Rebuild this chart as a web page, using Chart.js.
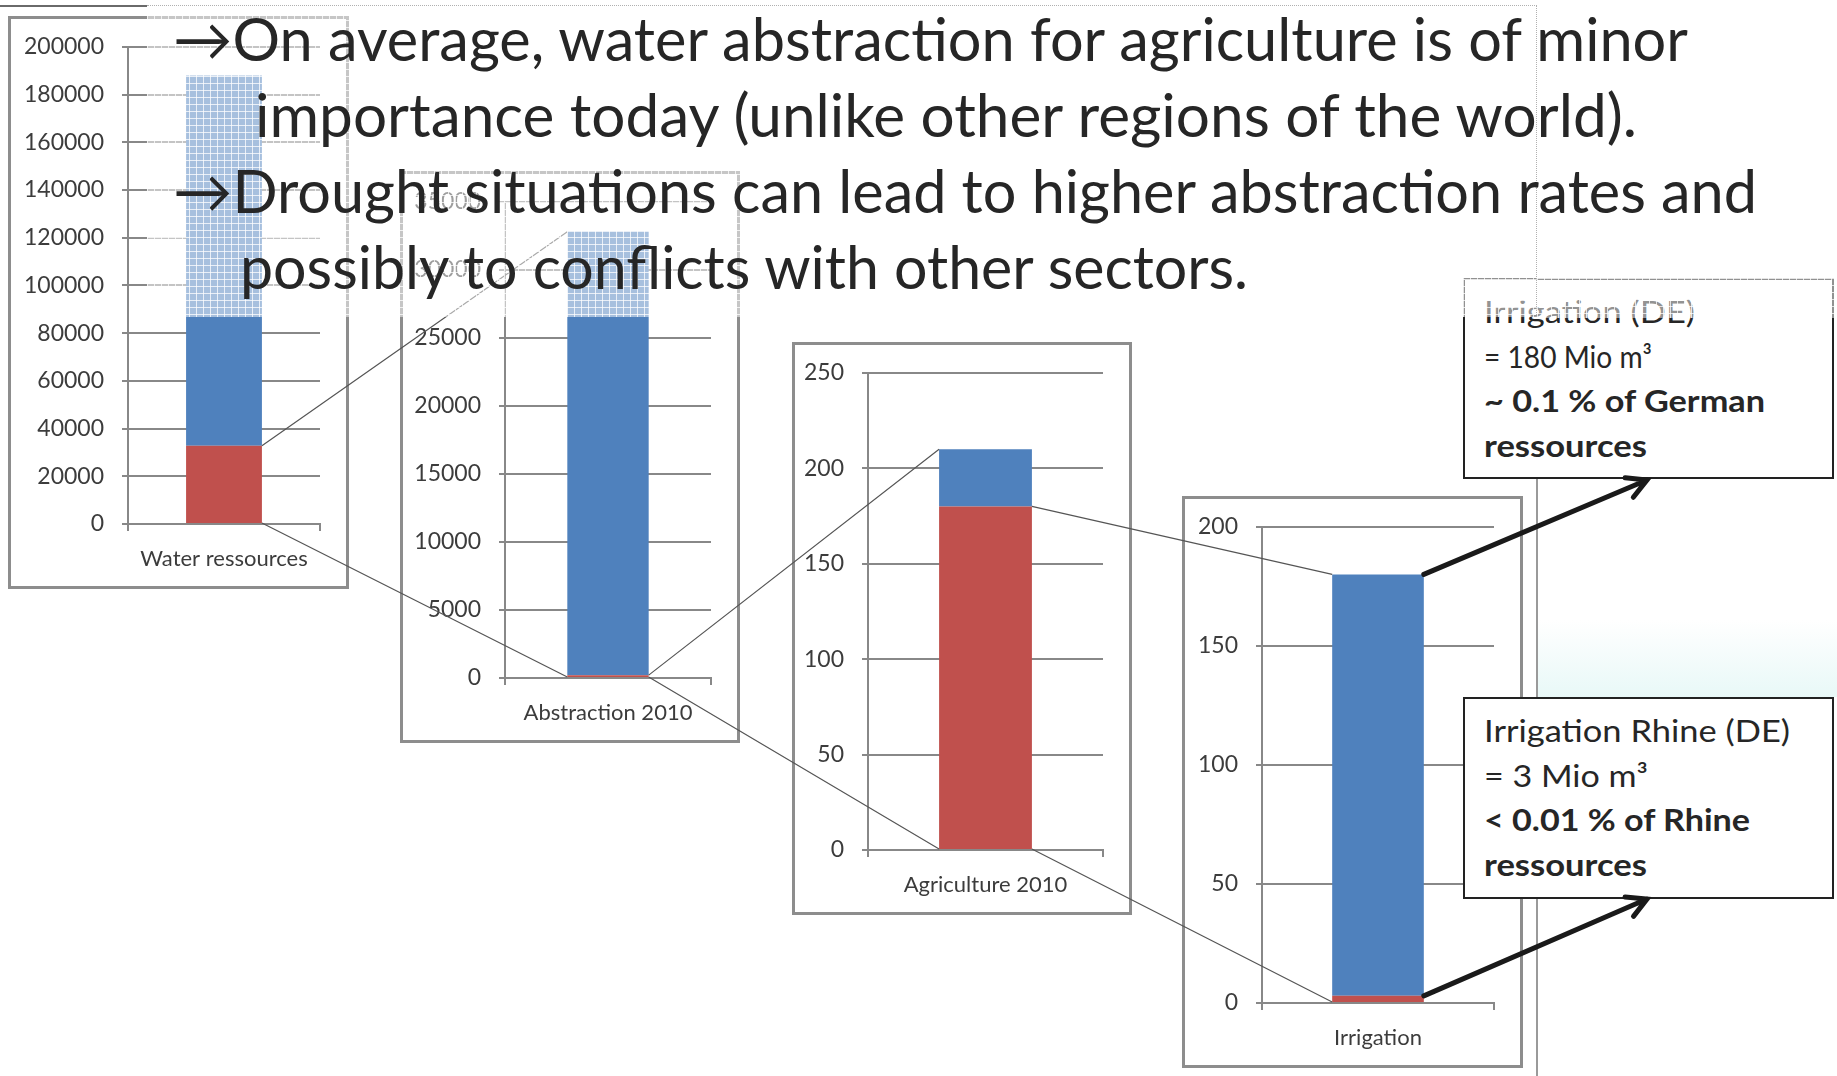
<!DOCTYPE html>
<html lang="en">
<head>
<meta charset="UTF-8">
<title>Water abstraction for agriculture</title>
<script src="https://cdn.jsdelivr.net/npm/chart.js"></script>
<style>
  html, body { margin: 0; padding: 0; background: #fff; }
  body { width: 1837px; height: 1076px; position: relative; overflow: hidden; font-family: Lato, sans-serif; }
  .frame { position: absolute; border: 3px solid #8d8d8d; background: #fff; z-index: 1; }
  .frame canvas { display: block; margin-top: -4px; }
  #links { position: absolute; left: 0; top: 0; z-index: 2; pointer-events: none; }
  #arrows { position: absolute; left: 0; top: 0; z-index: 6; pointer-events: none; }
  .veil {
    position: absolute; z-index: 3;
    background-color: rgba(255,255,255,0.5);
    background-image: linear-gradient(rgba(255,255,255,0.75) 1px, transparent 1px),
                      linear-gradient(90deg, rgba(255,255,255,0.75) 1px, transparent 1px);
    background-size: 7px 7px;
  }
  .bullet { position: absolute; z-index: 4; font-size: 60px; line-height: 60px; color: #262626; white-space: nowrap; transform-origin: 0 0; }
  .note { position: absolute; z-index: 2; background: #fff; border: 2px solid #222; box-sizing: border-box;
          padding: 9px 0 0 19px; font-size: 30px; line-height: 44.5px; color: #262626; }
  .note div { white-space: nowrap; width: max-content; transform-origin: 0 0; }
  .note b { font-weight: 700; }
</style>
</head>
<body>

<div style="position:absolute;left:0;top:5px;width:147px;height:2px;background:#6a6a6a"></div>
<div style="position:absolute;left:1536px;top:317px;width:2px;height:759px;background:#9a9a9a"></div>
<div style="position:absolute;left:1538px;top:620px;width:299px;height:77px;background:linear-gradient(to bottom, rgba(225,246,246,0), rgba(205,240,238,0.45))"></div>

<div class="frame" style="left:8px;top:16px;width:335px;height:567px"><canvas id="c1" width="335" height="571"></canvas></div>
<div class="frame" style="left:400px;top:171px;width:334px;height:566px"><canvas id="c2" width="334" height="570"></canvas></div>
<div class="frame" style="left:792px;top:342px;width:334px;height:567px"><canvas id="c3" width="334" height="571"></canvas></div>
<div class="frame" style="left:1182px;top:496px;width:335px;height:566px"><canvas id="c4" width="335" height="570"></canvas></div>

<canvas id="links" width="1837" height="1076"></canvas>

<div class="note" style="left:1463px;top:278px;width:371px;height:201px">
  <div data-w="211">Irrigation (DE)</div>
  <div data-w="168">= 180 Mio m³</div>
  <div data-w="281"><b>~ 0.1 % of German</b></div>
  <div data-w="163"><b>ressources</b></div>
</div>
<div class="note" style="left:1463px;top:697px;width:371px;height:202px">
  <div data-w="306">Irrigation Rhine (DE)</div>
  <div data-w="164">= 3 Mio m³</div>
  <div data-w="266"><b>&lt; 0.01 % of Rhine</b></div>
  <div data-w="163"><b>ressources</b></div>
</div>

<!-- translucent text box laid over the upper part of the charts -->
<div class="veil" style="left:147px;top:5px;width:1390px;height:312px;border-top:1px dotted #b0b0b0;border-right:1px dotted #b0b0b0;box-sizing:border-box"></div>
<div class="veil" style="left:1537px;top:278px;width:297px;height:40px"></div>

<div class="bullet" data-w="1515" style="left:173px;top:8px">→On average, water abstraction for agriculture is of minor</div>
<div class="bullet" data-w="1382" style="left:255px;top:84px">importance today (unlike other regions of the world).</div>
<div class="bullet" data-w="1584" style="left:173px;top:160px">→Drought situations can lead to higher abstraction rates and</div>
<div class="bullet" data-w="1008" style="left:240px;top:236px">possibly to conflicts with other sectors.</div>

<canvas id="arrows" width="1837" height="1076"></canvas>

<script>
// Mio m³ per year, one stacked bar per chart
const chartLabels = ['Water ressources', 'Abstraction 2010', 'Agriculture 2010', 'Irrigation'];
const lowerPart = [32800, 210, 180, 3];        // red: the part zoomed into by the next chart
const upperPart = [155200, 32590, 30, 177];    // blue: the rest
const axisMax = [200000, 35000, 250, 200];
const axisStep = [20000, 5000, 50, 50];

const RED = '#C0504D';
const BLUE = '#4F81BD';
const GRID = '#888888';

Chart.defaults.font.family = 'Lato, sans-serif';

function drawBarChart(canvasId, i, axisWidth) {
  return new Chart(document.getElementById(canvasId), {
    type: 'bar',
    data: {
      labels: [chartLabels[i]],
      datasets: [
        { data: [lowerPart[i]], backgroundColor: RED },
        { data: [upperPart[i]], backgroundColor: BLUE }
      ]
    },
    options: {
      responsive: false,
      animation: false,
      layout: { padding: { top: 21, right: 26, left: 0, bottom: 0 } },
      plugins: { legend: { display: false }, tooltip: { enabled: false } },
      datasets: { bar: { barPercentage: 0.395, categoryPercentage: 1 } },
      scales: {
        x: {
          stacked: true,
          grid: { drawOnChartArea: false, color: GRID, lineWidth: 2, tickLength: 7 },
          border: { color: GRID, width: 2 },
          ticks: { padding: 15, color: '#3c3c3c', font: { size: 22 } },
          afterFit: s => { s.height = 62; }
        },
        y: {
          stacked: true,
          min: 0,
          max: axisMax[i],
          grid: { color: GRID, lineWidth: 2, tickLength: 6 },
          border: { color: GRID, width: 2 },
          ticks: { stepSize: axisStep[i], padding: 18, color: '#3c3c3c', font: { size: 23 },
                   callback: v => String(v) },
          afterFit: s => { s.width = axisWidth; }
        }
      }
    }
  });
}

const charts = [
  drawBarChart('c1', 0, 117),
  drawBarChart('c2', 1, 102),
  drawBarChart('c3', 2, 73),
  drawBarChart('c4', 3, 77)
];

// page coordinates of a chart's stacked bar
function barEdges(chart) {
  const box = chart.canvas.getBoundingClientRect();
  const lower = chart.getDatasetMeta(0).data[0];
  const upper = chart.getDatasetMeta(1).data[0];
  return {
    left: box.left + lower.x - lower.width / 2,
    right: box.left + lower.x + lower.width / 2,
    base: box.top + lower.base,
    split: box.top + lower.y,
    top: box.top + upper.y
  };
}

function drawLinks() {
  const ctx = document.getElementById('links').getContext('2d');
  ctx.clearRect(0, 0, 1837, 1076);
  ctx.strokeStyle = '#555';
  ctx.lineWidth = 1.2;
  const b = charts.map(barEdges);
  for (let k = 0; k < 3; k++) {
    const from = b[k], to = b[k + 1];
    ctx.beginPath();
    ctx.moveTo(from.right, from.split); ctx.lineTo(to.left, to.top);
    ctx.moveTo(from.right, from.base); ctx.lineTo(to.left, to.base);
    ctx.stroke();
  }

  const actx = document.getElementById('arrows').getContext('2d');
  actx.clearRect(0, 0, 1837, 1076);
  actx.strokeStyle = '#1a1a1a';
  actx.lineWidth = 5;
  actx.lineCap = 'round';
  const last = b[3];
  arrow(actx, last.right, last.top, 1647, 480);
  arrow(actx, last.right, last.split, 1647, 899);
}

function arrow(ctx, x0, y0, x1, y1) {
  const a = Math.atan2(y1 - y0, x1 - x0);
  const len = 22, spread = 0.5;
  ctx.beginPath();
  ctx.moveTo(x0, y0); ctx.lineTo(x1, y1);
  ctx.moveTo(x1 - len * Math.cos(a - spread), y1 - len * Math.sin(a - spread));
  ctx.lineTo(x1, y1);
  ctx.lineTo(x1 - len * Math.cos(a + spread), y1 - len * Math.sin(a + spread));
  ctx.stroke();
}

// squeeze each text line to its set width
function fitText() {
  document.querySelectorAll('[data-w]').forEach(el => {
    el.style.transform = 'none';
    const w = el.getBoundingClientRect().width;
    el.style.transform = `scaleX(${el.dataset.w / w})`;
  });
}

fitText();
drawLinks();
document.fonts.ready.then(() => { fitText(); charts.forEach(c => c.update()); drawLinks(); });
</script>
</body>
</html>
